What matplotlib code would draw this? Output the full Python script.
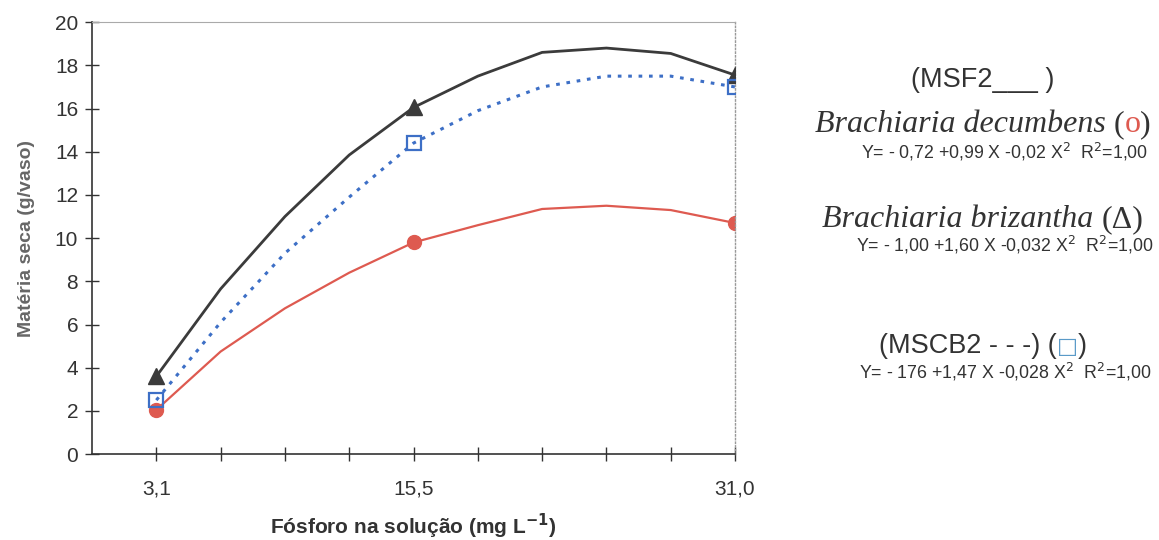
import matplotlib
matplotlib.use('Agg')
import matplotlib.pyplot as plt
from matplotlib.ticker import FixedLocator, FixedFormatter

# fósforo na solução (mg L-1)
fosforo = [3.1, 6.2, 9.3, 12.4, 15.5, 18.6, 21.7, 24.8, 27.9, 31.0]
# matéria seca (g/vaso)
decumbens = [2.05, 4.75, 6.75, 8.4, 9.8, 10.6, 11.35, 11.5, 11.3, 10.7]
brizantha = [3.6, 7.65, 11.0, 13.85, 16.05, 17.5, 18.6, 18.8, 18.55, 17.55]
mscb2 = [2.5, 6.1, 9.3, 11.9, 14.4, 15.9, 17.0, 17.5, 17.5, 17.0]
marcados = [0, 4, 9]

tick_pos = [3.1, 15.5, 31.0]
tick_lab = ['3,1', '15,5', '31,0']

plt.rcParams['font.family'] = ['Liberation Sans', 'DejaVu Sans']

fig = plt.figure(figsize=(11.59, 5.40), dpi=100)
ax = fig.add_axes([0.0794, 0.159, 0.5548, 0.8])

ax.plot(fosforo, brizantha, color='#3b3b3b', lw=2, marker='^', ms=11,
        markevery=marcados, zorder=3)
ax.plot(fosforo, mscb2, color='#3d6fc6', lw=2.2, ls=(0, (1.2, 2.2)),
        marker='s', ms=10, mfc='none', mec='#3d6fc6', mew=1.6,
        markevery=marcados, zorder=4)
ax.plot(fosforo, decumbens, color='#de5a50', lw=1.6, marker='o', ms=10,
        markevery=marcados, zorder=2)

ax.set_xlim(0, 31)
ax.set_ylim(0, 20)
ax.set_yticks(range(0, 21, 2))
ax.xaxis.set_major_locator(FixedLocator(tick_pos))
ax.xaxis.set_major_formatter(FixedFormatter(tick_lab))
ax.set_xticks([3.1 * i for i in range(1, 11)], minor=True)
ax.tick_params(axis='both', direction='inout', length=10, width=1,
               color='#333333', labelsize=15, labelcolor='#333333', pad=5)
ax.tick_params(axis='x', which='minor', direction='inout', length=10,
               width=1, color='#333333')
ax.tick_params(axis='x', pad=13)

for s in ['left', 'bottom']:
    ax.spines[s].set_color('#333333')
    ax.spines[s].set_linewidth(1.2)
ax.spines['top'].set_color('#aaaaaa')
ax.spines['top'].set_linewidth(0.8)
ax.spines['right'].set_color('#999999')
ax.spines['right'].set_linewidth(1)
ax.spines['right'].set_linestyle(':')

ax.set_ylabel('Matéria seca (g/vaso)', fontsize=14, fontweight='bold',
              color='#666666', labelpad=14)
ax.set_xlabel('Fósforo na solução (mg L$^{\\mathbf{-1}}$)', fontsize=15,
              fontweight='bold', color='#333333', labelpad=10)

# texto à direita
cx = 0.848
cx_eq = 0.867
eq_kw = dict(fontsize=12.8, color='#333333', ha='center', va='center')
fig.text(cx, 0.852, '(MSF2___ )', fontsize=19.5, color='#333333',
         ha='center', va='center')


def pecas(y, partes):
    # draw pieces side by side, centred on cx
    r = fig.canvas.get_renderer()
    objs = []
    for txt, kw in partes:
        objs.append(fig.text(0, y, txt, va='baseline', ha='left', **kw))
    ws = [o.get_window_extent(r).width / fig.bbox.width for o in objs]
    x = cx - sum(ws) / 2
    for o, w in zip(objs, ws):
        o.set_x(x)
        x += w


serif = ['Liberation Serif', 'DejaVu Serif']
pecas(0.755, [('Brachiaria decumbens ', dict(fontsize=23, family=serif,
                                             style='italic', color='#333333')),
              ('(', dict(fontsize=23, family=serif, color='#333333')),
              ('o', dict(fontsize=23, family=serif, color='#de5a50')),
              (')', dict(fontsize=23, family=serif, color='#333333'))])
fig.text(cx_eq, 0.718, 'Y= - 0,72 +0,99 X -0,02 X$^2$  R$^2$=1,00', **eq_kw)

pecas(0.580, [('Brachiaria brizantha ', dict(fontsize=23, family=serif,
                                             style='italic', color='#333333')),
              ('(Δ)', dict(fontsize=23, family=serif, color='#333333'))])
fig.text(cx_eq, 0.546, 'Y= - 1,00 +1,60 X -0,032 X$^2$  R$^2$=1,00', **eq_kw)

pecas(0.346, [('(MSCB2 - - -) (', dict(fontsize=19.5, color='#333333')),
              ('□', dict(fontsize=16, family=['DejaVu Sans'],
                         color='#5a9ac8')),
              (')', dict(fontsize=19.5, color='#333333'))])
fig.text(cx_eq, 0.311, 'Y= - 176 +1,47 X -0,028 X$^2$  R$^2$=1,00', **eq_kw)

fig.savefig('out.png', dpi=100)
